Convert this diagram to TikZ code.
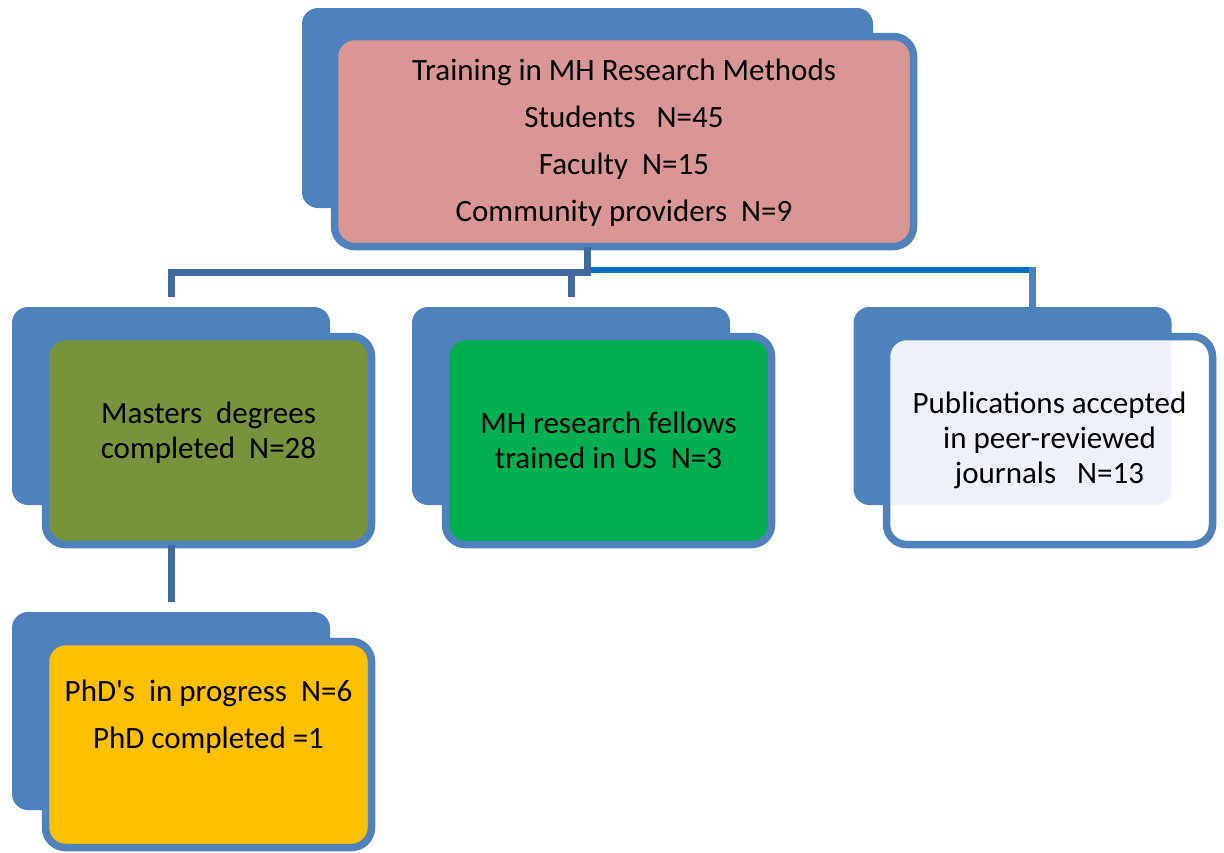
\documentclass[tikz,border=0pt]{standalone}
\usepackage{fontspec}
\setmainfont{Carlito}
\usepackage{xcolor}
\definecolor{cardc}{HTML}{4F81BD}
\definecolor{pinkc}{HTML}{D99694}
\definecolor{olivec}{HTML}{77933C}
\definecolor{greenc}{HTML}{00B050}
\definecolor{goldc}{HTML}{FFC000}
\definecolor{linkc}{HTML}{41699D}
\definecolor{busc}{HTML}{0070C0}

\begin{document}
\begin{tikzpicture}[x=1pt, y=-1pt, font=\fontsize{31}{35}\selectfont,
  back/.style={fill=cardc, rounded corners=16pt, minimum width=318pt, minimum height=198pt, inner sep=0pt, outer sep=0pt},
  front/.style={draw=cardc, line width=7.5pt, rounded corners=20pt, minimum width=326pt, minimum height=208pt, inner sep=0pt, outer sep=0pt},
  txt/.style={align=center, inner sep=0pt},
  link/.style={linkc, line width=7pt},
  bus/.style={busc, line width=6pt}]
  \useasboundingbox (0,0) rectangle (1224,852);

  % blue cards behind
  \node[back, minimum width=571pt, minimum height=200pt] (topback) at (587.5,108) {};
  \node[back] (mastersback) at (171,406) {};
  \node[back] (fellowsback) at (571,406) {};
  \node[back] (pubsback) at (1012.5,406) {};
  \node[back] (phdback) at (171,711) {};

  % coloured cards in front
  \node[front, fill=pinkc, minimum width=579pt, minimum height=210pt] (top) at (624,141.5) {};
  \node[front, fill=olivec] (masters) at (208.5,440.5) {};
  \node[front, fill=greenc] (fellows) at (608.5,440.5) {};
  \node[front, fill=white, fill opacity=0.9] (pubs) at (1049.5,440.5) {};
  \node[front, fill=goldc, minimum height=206pt] (phd) at (208.5,744.5) {};

  % texts
  \node[txt, font=\fontsize{31}{47}\selectfont] (toptext) at ([yshift=-1.5pt]top.center)
    {Training in MH Research Methods\\Students\ \ \ N=45\\Faculty\ \ N=15\\Community providers\ \ N=9};
  \node[txt] (masterstext) at ([yshift=8pt]masters.center) {Masters\ \ degrees\\completed\ \ N=28};
  \node[txt] (fellowstext) at (fellows.center) {MH research fellows\\trained in US\ \ N=3};
  \node[txt] (pubstext) at (pubs.center) {Publications accepted\\in peer-reviewed\\journals\ \ \ N=13};
  \node[txt, font=\fontsize{31}{47}\selectfont] (phdtext) at ([yshift=28pt]phd.center)
    {PhD\textquotesingle s\ \ in progress\ \ N=6\\PhD completed =1};

  % tree connectors
  \coordinate (busy) at (0,272);
  \coordinate (hub) at (topback |- busy);
  \coordinate (busR) at (1032,270);
  \draw[link] (top.south -| hub) -- (hub);
  \draw[link] ([yshift=10pt]mastersback.north) |- ([xshift=3.5pt]hub);
  \draw[link] ([yshift=10pt]fellowsback.north) -- (fellowsback.north |- busy);
  \draw[bus] ([xshift=3.5pt]hub |- busR) -- ([xshift=3pt]busR);
  \draw[cardc, line width=7pt] ([yshift=3pt]busR) -- (pubsback.north -| busR);
  \draw[link] (masters.south -| mastersback) -- ([yshift=10pt]phdback.north);
\end{tikzpicture}
\end{document}
